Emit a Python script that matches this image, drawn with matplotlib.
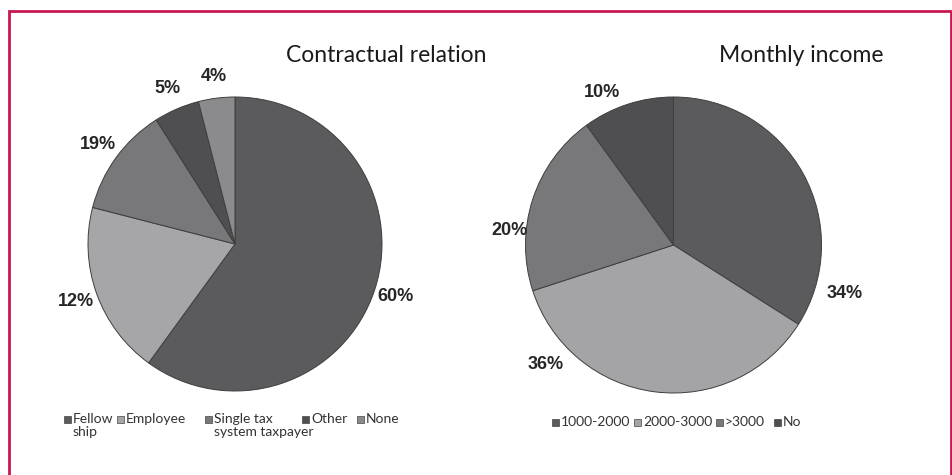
import numpy as np
import matplotlib.pyplot as plt
from matplotlib.patches import Rectangle

# --- data -------------------------------------------------------------
contract_cats = ["Fellow\nship", "Employee", "Single tax\nsystem taxpayer", "Other", "None"]
# slice sizes as they are drawn in the source figure
contract_sizes = [60, 19, 12, 5, 4]
# percentages as printed next to the slices
contract_labels = ["60%", "12%", "19%", "5%", "4%"]

income_cats = ["1000-2000", "2000-3000", ">3000", "No"]
income_sizes = [34, 36, 20, 10]
income_labels = ["34%", "36%", "20%", "10%"]

# --- style ------------------------------------------------------------
contract_colors = ["#5b5b5d", "#a6a6a8", "#78787a", "#4f4f51", "#8b8b8d"]
income_colors = ["#5b5b5d", "#a4a4a6", "#78787a", "#4f4f51"]
# Excel "best fit" label angles for the right pie (degrees)
income_label_angles = [-16, 223, 175, 115]
income_label_r = [1.20, 1.18, 1.11, 1.14]
# legend entry x positions (pixels) and row y (pixels)
contract_leg_x = [64, 117, 205, 302, 357]
income_leg_x = [552, 634, 716, 774]

W, H = 953, 475
fig = plt.figure(figsize=(W / 100, H / 100), dpi=100)
fig.patch.set_facecolor("white")

# crimson frame (bottom edge runs off the picture)
fig.add_artist(Rectangle((9 / W, -0.05), 942 / W, 1.05 - 11 / H,
                         transform=fig.transFigure, fill=False,
                         edgecolor="#c8174f", linewidth=2.0))


def pie_axes(cx, cy, r, span=1.6):
    size = r * span
    ax = fig.add_axes([(cx - size) / W, 1 - (cy + size) / H, 2 * size / W, 2 * size / H])
    return ax


def finish(ax, span=1.6):
    ax.set_xlim(-span, span)
    ax.set_ylim(-span, span)
    ax.set_aspect("equal")
    ax.axis("off")


label_font = dict(family="Liberation Sans", fontweight="bold", fontsize=13,
                  color="#262626", ha="center", va="center")
wedge_style = dict(edgecolor="#3e3e3e", linewidth=0.7)

# left pie
ax1 = pie_axes(235, 244, 147)
w1, _ = ax1.pie(contract_sizes, colors=contract_colors, startangle=90,
                counterclock=False, wedgeprops=wedge_style)
finish(ax1)
for w, lab in zip(w1, contract_labels):
    ang = np.deg2rad((w.theta1 + w.theta2) / 2)
    ax1.text(1.15 * np.cos(ang), 1.15 * np.sin(ang), lab, **label_font)

# right pie
ax2 = pie_axes(673.5, 245, 148)
w2, _ = ax2.pie(income_sizes, colors=income_colors, startangle=90,
                counterclock=False, wedgeprops=wedge_style)
finish(ax2)
for lab, a, r in zip(income_labels, income_label_angles, income_label_r):
    ang = np.deg2rad(a)
    ax2.text(r * np.cos(ang), r * np.sin(ang), lab, **label_font)

# titles
title_font = dict(family="Lato", fontsize=16.5, color="#1a1a1a",
                  ha="center", va="center")
fig.text(386 / W, 1 - 55 / H, "Contractual relation", **title_font)
fig.text(801 / W, 1 - 55 / H, "Monthly income", **title_font)


# legends: small square + text, first line aligned with the square
def draw_legend(wedges, cats, xs, y_mid):
    for w, cat, x in zip(wedges, cats, xs):
        fig.add_artist(Rectangle((x / W, 1 - (y_mid + 3.5) / H), 7 / W, 7 / H,
                                 transform=fig.transFigure,
                                 facecolor=w.get_facecolor(),
                                 edgecolor="#444444", linewidth=0.5))
        fig.text((x + 9) / W, 1 - (y_mid - 6) / H, cat, family="Lato",
                 fontsize=10, color="#333333", ha="left", va="top",
                 linespacing=1.15)


draw_legend(w1, contract_cats, contract_leg_x, 419)
draw_legend(w2, income_cats, income_leg_x, 422)

fig.savefig("out.png", dpi=100)
